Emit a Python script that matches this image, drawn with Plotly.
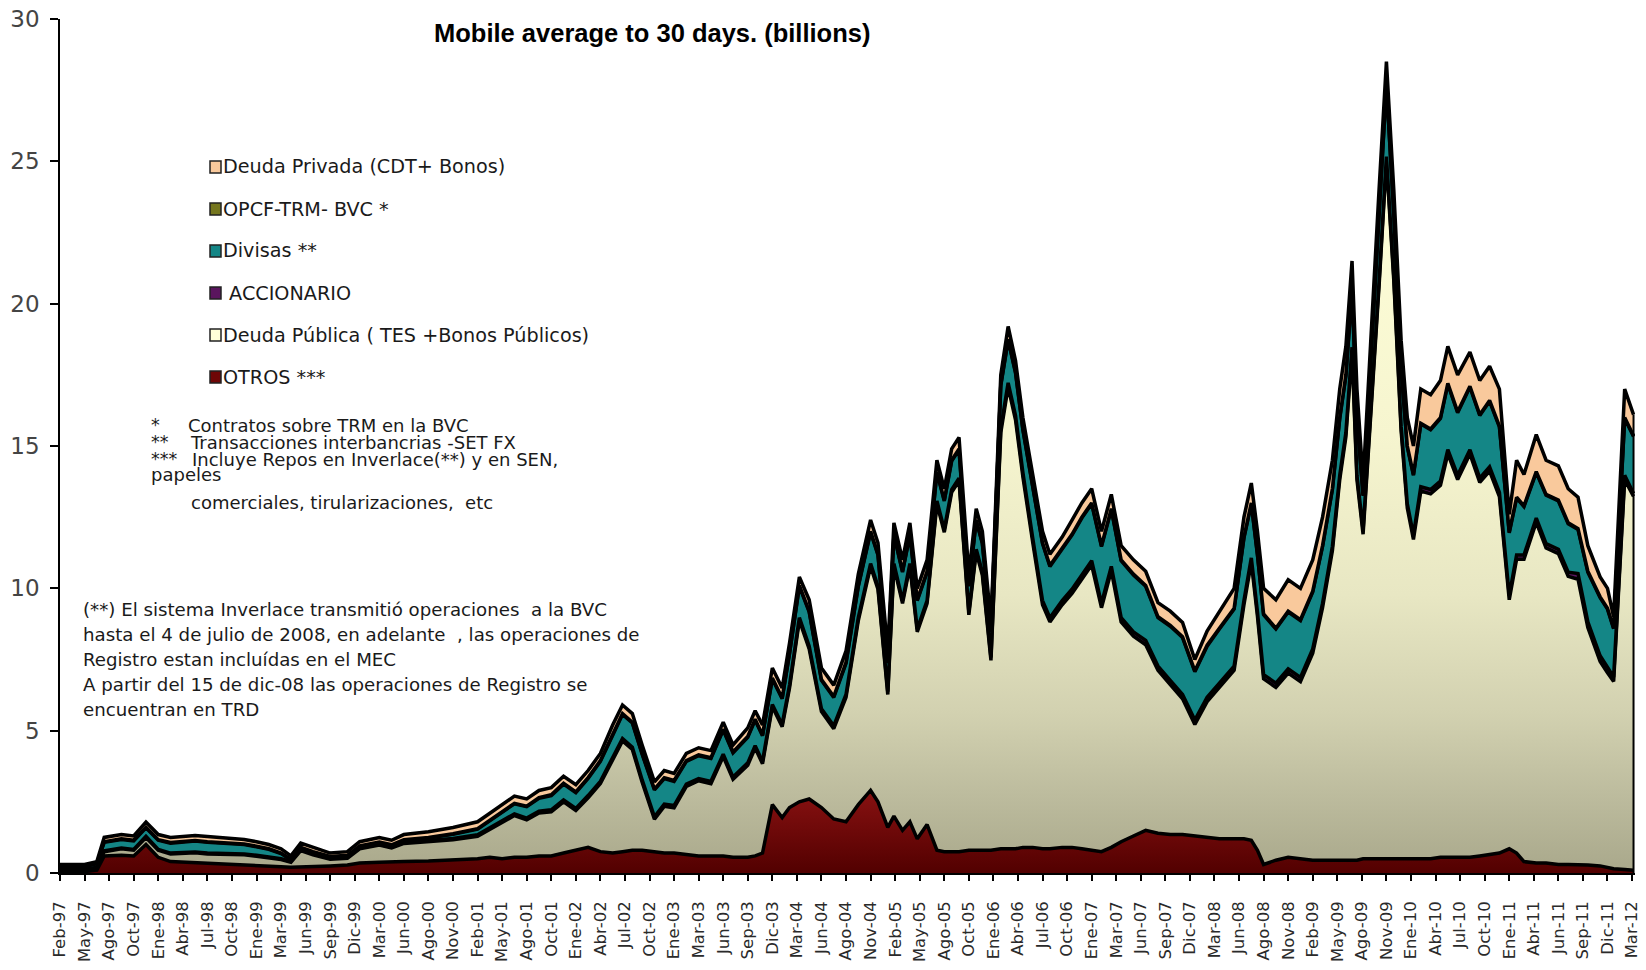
import plotly.graph_objects as go

# Quarterly category labels along the x axis (one tick per position 0..64)
tick_labels = [
    "Feb-97", "May-97", "Ago-97", "Oct-97", "Ene-98", "Abr-98", "Jul-98", "Oct-98", "Ene-99", "Mar-99",
    "Jun-99", "Sep-99", "Dic-99", "Mar-00", "Jun-00", "Ago-00", "Nov-00", "Feb-01", "May-01", "Ago-01",
    "Oct-01", "Ene-02", "Abr-02", "Jul-02", "Oct-02", "Ene-03", "Mar-03", "Jun-03", "Sep-03", "Dic-03",
    "Mar-04", "Jun-04", "Ago-04", "Nov-04", "Feb-05", "May-05", "Ago-05", "Oct-05", "Ene-06", "Abr-06",
    "Jul-06", "Oct-06", "Ene-07", "Mar-07", "Jun-07", "Sep-07", "Dic-07", "Mar-08", "Jun-08", "Ago-08",
    "Nov-08", "Feb-09", "May-09", "Ago-09", "Nov-09", "Ene-10", "Abr-10", "Jul-10", "Oct-10", "Ene-11",
    "Abr-11", "Jun-11", "Sep-11", "Dic-11", "Mar-12",
]

# Sample positions, in units of the category ticks above
x_pos = [
    0.0, 1.0, 1.5, 1.8, 2.5, 3.0, 3.5, 4.0, 4.5, 5.0,
    5.5, 6.0, 6.5, 7.0, 7.5, 8.0, 8.5, 9.0, 9.4, 9.8,
    10.3, 11.0, 11.7, 12.2, 13.0, 13.5, 14.0, 15.0, 16.0, 17.0,
    17.5, 18.0, 18.5, 19.0, 19.5, 20.0, 20.5, 21.0, 21.5, 22.0,
    22.5, 22.9, 23.3, 23.7, 24.2, 24.6, 25.0, 25.5, 26.0, 26.5,
    27.0, 27.4, 28.0, 28.3, 28.6, 29.0, 29.4, 29.7, 30.1, 30.5,
    31.0, 31.5, 32.0, 32.5, 33.0, 33.3, 33.7, 33.95, 34.3, 34.6,
    34.9, 35.3, 35.7, 36.0, 36.3, 36.6, 37.0, 37.3, 37.55, 37.9,
    38.3, 38.6, 38.9, 39.2, 39.6, 40.0, 40.3, 40.8, 41.2, 41.6,
    42.0, 42.4, 42.8, 43.2, 43.7, 44.2, 44.7, 45.2, 45.7, 46.2,
    46.7, 47.2, 47.8, 48.2, 48.5, 48.75, 49.0, 49.5, 50.0, 50.5,
    51.0, 51.4, 51.8, 52.1, 52.35, 52.6, 52.8, 53.05, 53.35, 53.7,
    54.0, 54.3, 54.6, 54.85, 55.1, 55.4, 55.8, 56.2, 56.5, 56.9, 57.4,
    57.8, 58.2, 58.6, 59.0, 59.3, 59.6, 60.1, 60.5, 61.0, 61.4,
    61.8, 62.2, 62.7, 63.0, 63.25, 63.7, 64.06,
]

# 30-day moving averages by market (billions), stacked bottom to top
otros = [
    .05, .05, .10, .60, .62, .60, 1.00, .55, .40, .38,
    .38, .35, .35, .32, .30, .28, .25, .22, .20, .22,
    .22, .25, .28, .35, .38, .40, .40, .42, .45, .50,
    .55, .50, .55, .55, .60, .60, .70, .80, .90, .75,
    .70, .75, .80, .80, .75, .70, .70, .65, .60, .60,
    .60, .55, .55, .60, .70, 2.40, 1.95, 2.30, 2.50, 2.60,
    2.30, 1.90, 1.80, 2.40, 2.90, 2.50, 1.60, 2.00, 1.50, 1.80,
    1.20, 1.70, .80, .75, .75, .75, .80, .80, .80, .80,
    .85, .85, .85, .90, .90, .85, .85, .90, .90, .85,
    .80, .75, .90, 1.10, 1.30, 1.50, 1.40, 1.35, 1.35, 1.30,
    1.25, 1.20, 1.20, 1.20, 1.15, .80, .30, .45, .55, .50,
    .45, .45, .45, .45, .45, .45, .45, .50, .50, .50,
    .50, .50, .50, .50, .50, .50, .50, .55, .55, .55, .55,
    .60, .65, .70, .85, .70, .40, .35, .35, .30, .30,
    .30, .28, .25, .20, .15, .12, .10,
]

deuda_publica = [
    .05, .05, .08, .15, .23, .20, .25, .25, .27, .31,
    .33, .32, .31, .32, .34, .31, .27, .25, .18, .57,
    .42, .23, .24, .50, .60, .48, .64, .67, .72, .79,
    .98, 1.27, 1.47, 1.32, 1.51, 1.55, 1.80, 1.40, 1.74, 2.39,
    3.29, 3.89, 3.54, 2.39, 1.14, 1.64, 1.59, 2.39, 2.64, 2.54,
    3.49, 2.74, 3.24, 3.79, 3.14, 3.44, 3.19, 4.20, 6.37, 5.27,
    3.37, 3.17, 4.37, 6.47, 7.87, 7.47, 4.67, 8.77, 7.97, 8.97,
    7.27, 7.77, 12.17, 11.22, 12.62, 13.02, 8.27, 10.47, 9.67, 6.67,
    14.62, 16.22, 15.07, 13.02, 10.72, 8.57, 7.97, 8.52, 8.92, 9.47,
    10.02, 8.57, 9.72, 7.72, 7.02, 6.52, 5.72, 5.27, 4.77, 3.92,
    4.77, 5.32, 5.92, 8.22, 9.77, 8.22, 6.52, 6.07, 6.47, 6.22,
    7.27, 8.87, 10.87, 13.37, 14.87, 17.87, 13.37, 11.40, 15.32, 20.12,
    24.52, 20.32, 15.02, 12.32, 11.22, 12.92, 12.82, 13.07, 14.17, 13.27, 14.17,
    13.12, 13.47, 12.52, 8.75, 10.32, 10.62, 11.97, 11.07, 10.92, 10.12,
    10.02, 8.34, 7.18, 6.83, 6.58, 13.70, 13.13,
]

accionario = [
    .02, .02, .02, .03, .03, .03, .04, .03, .03, .03,
    .03, .03, .03, .03, .03, .03, .03, .03, .03, .03,
    .03, .03, .03, .03, .03, .03, .03, .04, .04, .05,
    .05, .06, .06, .06, .06, .07, .07, .07, .08, .08,
    .08, .08, .08, .08, .08, .08, .08, .08, .08, .08,
    .08, .08, .08, .08, .08, .08, .08, .10, .10, .10,
    .10, .10, .10, .10, .10, .10, .10, .10, .10, .10,
    .10, .10, .10, .10, .10, .10, .10, .10, .10, .10,
    .15, .15, .15, .15, .15, .15, .15, .15, .15, .15,
    .15, .15, .15, .15, .15, .15, .15, .15, .15, .15,
    .15, .15, .15, .15, .15, .15, .15, .15, .15, .15,
    .15, .15, .15, .15, .15, .15, .15, .15, .15, .15,
    .15, .15, .15, .15, .15, .15, .15, .15, .15, .15, .15,
    .15, .15, .15, .15, .15, .15, .15, .15, .15, .15,
    .20, .20, .20, .20, .15, .15, .10,
]

divisas = [
    .10, .10, .12, .30, .30, .30, .30, .32, .35, .38,
    .38, .38, .36, .35, .33, .30, .28, .18, .05, .06,
    .06, .05, .05, .05, .06, .06, .08, .10, .15, .20,
    .25, .30, .35, .40, .45, .50, .55, .55, .60, .70,
    .80, .85, .85, .90, .95, .90, .85, .80, .80, .80,
    .85, .85, .90, .90, .90, .90, .90, 1.10, 1.10, 1.20,
    1.00, 1.00, 1.10, 1.10, 1.10, 1.10, 1.00, 1.00, 1.00, 1.00,
    1.00, 1.00, 1.00, 1.00, 1.00, 1.00, .90, 1.00, 1.00, .90,
    1.50, 1.50, 1.50, 1.50, 1.80, 2.00, 1.80, 1.80, 1.90, 2.00,
    2.00, 2.00, 2.00, 2.00, 2.00, 1.90, 1.70, 1.90, 2.00, 1.70,
    1.80, 1.90, 2.00, 2.20, 1.90, 2.00, 2.10, 1.90, 2.00, 2.00,
    2.00, 2.00, 2.00, 2.00, 2.00, 2.00, 2.00, 1.20, 1.70, 2.20,
    2.50, 2.20, 2.00, 2.00, 2.10, 2.20, 2.10, 2.20, 2.30, 2.20, 2.20,
    2.20, 2.30, 2.30, 2.20, 2.00, 1.70, 1.60, 1.70, 1.70, 1.70,
    1.55, 1.75, 2.04, 2.04, 1.70, 2.00, 2.00,
]

opcf = [
    .02, .02, .02, .02, .02, .02, .02, .02, .02, .02,
    .02, .02, .02, .02, .02, .02, .02, .02, .02, .02,
    .02, .02, .02, .02, .02, .02, .02, .02, .02, .02,
    .02, .02, .02, .02, .03, .03, .03, .03, .03, .03,
    .03, .03, .03, .03, .03, .03, .03, .03, .03, .03,
    .03, .03, .03, .03, .03, .03, .03, .03, .03, .03,
    .03, .03, .03, .03, .03, .03, .03, .03, .03, .03,
    .03, .03, .03, .03, .03, .03, .03, .03, .03, .03,
    .03, .03, .03, .03, .03, .03, .03, .03, .03, .03,
    .03, .03, .03, .03, .03, .03, .03, .03, .03, .03,
    .03, .03, .03, .03, .03, .03, .03, .03, .03, .03,
    .03, .03, .03, .03, .03, .03, .03, .03, .03, .03,
    .03, .03, .03, .03, .03, .03, .03, .03, .03, .03, .03,
    .03, .03, .03, .03, .03, .03, .03, .03, .03, .03,
    .03, .03, .03, .03, .03, .03, .03,
]

deuda_privada = [
    .06, .06, .06, .15, .15, .15, .18, .18, .18, .18,
    .18, .18, .18, .18, .16, .16, .15, .15, .12, .15,
    .15, .12, .13, .15, .16, .16, .18, .20, .22, .24,
    .25, .25, .25, .25, .25, .25, .25, .25, .25, .25,
    .30, .30, .30, .30, .25, .25, .25, .25, .25, .25,
    .25, .25, .30, .30, .35, .35, .35, .35, .30, .40,
    .40, .40, .40, .40, .40, .40, .40, .40, .40, .40,
    .40, .40, .40, .40, .40, .40, .40, .40, .40, .30,
    .35, .45, .40, .40, .40, .40, .40, .40, .50, .50,
    .50, .50, .50, .50, .50, .50, .50, .50, .50, .40,
    .50, .60, .70, .70, .70, .80, .90, 1.00, 1.10, 1.10,
    1.10, 1.00, 1.00, 1.00, 1.00, 1.00, 1.00, .50, 1.00, 1.00,
    .80, .80, 1.00, 1.00, 1.00, 1.20, 1.20, 1.30, 1.30, 1.30, 1.20,
    1.20, 1.20, 1.30, .62, 1.30, 1.10, 1.30, 1.20, 1.20, 1.20,
    1.10, .90, .70, .70, .39, 1.00, .74,
]

FONT = "Liberation Sans, Arial, sans-serif"
WIDE = "DejaVu Sans, Verdana, sans-serif"

# name, values, fill colour, optional vertical gradient
layers = [
    ("OTROS ***", otros, "#6e0606",
     dict(type="vertical", start=0, stop=3,
          colorscale=[[0, "#520000"], [1, "#8a1212"]])),
    ("Deuda Pública ( TES +Bonos Públicos)", deuda_publica, "#e8e7c2",
     dict(type="vertical", start=0, stop=28,
          colorscale=[[0, "#a9a88b"], [0.1, "#bdbc9e"], [0.2, "#d2d1b0"],
                      [0.35, "#e8e7c3"], [0.55, "#f6f5cf"], [0.8, "#fcfcd6"],
                      [1, "#ffffda"]])),
    ("ACCIONARIO", accionario, "#5a155e", None),
    ("Divisas **", divisas, "#148686", None),
    ("OPCF-TRM- BVC *", opcf, "#75761e", None),
    ("Deuda Privada (CDT+ Bonos)", deuda_privada, "#f9c99c", None),
]

fig = go.Figure()
for name, vals, col, grad in layers:
    extra = {"fillgradient": grad} if grad else {}
    fig.add_trace(go.Scatter(
        x=x_pos, y=vals, name=name, stackgroup="mercados", mode="lines",
        line=dict(color="black", width=3.5), fillcolor=col,
        showlegend=False, hoverinfo="skip", **extra))

# closing edge of the stacked area at the last date
x_end = x_pos[-1]
top_end = sum(vals[-1] for _, vals, _, _ in layers)
fig.add_trace(go.Scatter(x=[x_end, x_end], y=[0, top_end], mode="lines",
                         line=dict(color="black", width=2),
                         showlegend=False, hoverinfo="skip"))

# plot area in page pixels
PL, PR, PT, PB = 60, 1635, 19, 873


def paper(px, py):
    return (px - PL) / (PR - PL), (PB - py) / (PB - PT)


annotations = []
shapes = []


def add_text(text, px, py, size=18, xanchor="left", bold=False,
             color="#1a1a1a", family=WIDE):
    xp, yp = paper(px, py)
    annotations.append(dict(
        text=f"<b>{text}</b>" if bold else text, x=xp, y=yp,
        xref="paper", yref="paper", xanchor=xanchor, yanchor="middle",
        showarrow=False, font=dict(family=family, size=size, color=color)))


add_text("Mobile average to 30 days. (billions)", 652, 33, size=25.5,
         xanchor="center", bold=True, color="black", family=FONT)

# hand-placed legend
legend_rows = [
    ("Deuda Privada (CDT+ Bonos)", "#f9c99c", 167),
    ("OPCF-TRM- BVC *", "#75761e", 209),
    ("Divisas **", "#148686", 251),
    (" ACCIONARIO", "#5a155e", 293),
    ("Deuda Pública ( TES +Bonos Públicos)", "#ffffd8", 335),
    ("OTROS ***", "#6e0606", 377),
]
for label, col, py in legend_rows:
    x0, y0 = paper(210, py + 6)
    x1, y1 = paper(221, py - 6)
    shapes.append(dict(type="rect", xref="paper", yref="paper",
                       x0=x0, y0=y0, x1=x1, y1=y1, fillcolor=col,
                       line=dict(color="#222", width=1.5)))
    add_text(label, 221, py, size=19.2)

# footnotes on the series marked with asterisks
add_text("*", 149, 425, size=17.5)
add_text("Contratos sobre TRM en la BVC", 186, 425, size=18)
add_text("**", 149, 442, size=17.5)
add_text("Transacciones interbancrias -SET FX", 188, 442, size=18)
add_text("***", 149, 459, size=17.5)
add_text("Incluye Repos en Inverlace(**) y en SEN,", 190, 459, size=18)
add_text("papeles", 149, 475, size=18)
add_text("comerciales, tirularizaciones,  etc", 189, 502, size=18)

note_lines = [
    "(**) El sistema Inverlace transmitió operaciones  a la BVC",
    "hasta el 4 de julio de 2008, en adelante  , las operaciones de",
    "Registro estan incluídas en el MEC",
    "A partir del 15 de dic-08 las operaciones de Registro se",
    "encuentran en TRD",
]
for line, py in zip(note_lines, [609, 634, 659, 684, 709]):
    add_text(line, 81, py, size=18.2)

fig.update_layout(
    width=1646, height=970,
    margin=dict(l=PL, r=1646 - PR, t=PT, b=970 - PB),
    paper_bgcolor="white", plot_bgcolor="white",
    font=dict(family=FONT, color="#222"),
    annotations=annotations, shapes=shapes,
    xaxis=dict(range=[0, 64.12], tickmode="array", automargin=False,
               tickvals=list(range(len(tick_labels))), ticktext=tick_labels,
               tickangle=-90, ticks="outside", ticklen=6, tickwidth=1.5,
               tickcolor="black", showline=True, linecolor="black", linewidth=1.5,
               showgrid=False, zeroline=False, ticklabelstandoff=14,
               tickfont=dict(family=WIDE, size=16.5, color="#2a2a2a")),
    yaxis=dict(range=[0, 30], tickmode="array", automargin=False,
               tickvals=[0, 5, 10, 15, 20, 25, 30],
               ticks="outside", ticklen=8, tickwidth=1.5, tickcolor="black",
               showline=True, linecolor="black", linewidth=1.5,
               showgrid=False, zeroline=False, ticklabelstandoff=6,
               tickfont=dict(family=WIDE, size=23, color="#444")),
)

fig.write_html("out.html")
